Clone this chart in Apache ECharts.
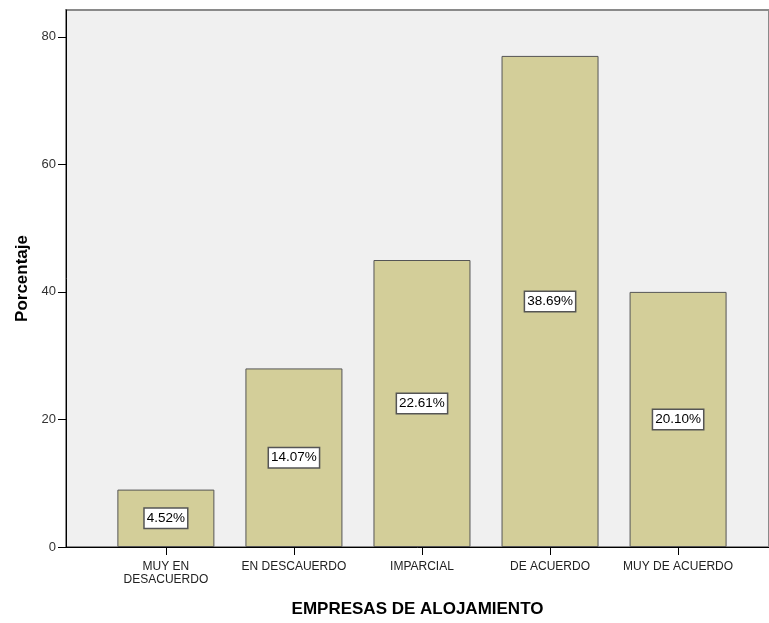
<!DOCTYPE html>
<html>
<head>
<meta charset="utf-8">
<script src="https://cdn.jsdelivr.net/npm/echarts@6/dist/echarts.min.js"></script>
<style>
  html, body { margin: 0; padding: 0; background: #fff; }
  #chart { width: 769px; height: 623px; }
</style>
</head>
<body>
<div id="chart"></div>
<script>
// categorias y datos
const categories = ['MUY EN\nDESACUERDO', 'EN DESCAUERDO', 'IMPARCIAL', 'DE ACUERDO', 'MUY DE ACUERDO']
const values = [9, 28, 45, 77, 40]
const percents = [4.52, 14.07, 22.61, 38.69, 20.10]
const yTicks = [0, 20, 40, 60, 80]
const xTicks = [0, 1, 2, 3, 4]

const font = 'Arial, "Liberation Sans", sans-serif'

const chart = echarts.init(document.getElementById('chart'))

const option = {
    animation: false,
    textStyle: { fontFamily: font },
    grid: {
        left: 66,
        top: 10,
        right: -2,
        bottom: 71,
        show: true,
        backgroundColor: '#f0f0f0',
        borderColor: '#8a8a8a',
        borderWidth: 2
    },
    xAxis: {
        type: 'value',
        min: -0.78,
        max: 4.71,
        name: 'EMPRESAS DE ALOJAMIENTO',
        nameLocation: 'middle',
        nameGap: 54,
        nameTextStyle: { fontSize: 17, fontWeight: 'bold', color: '#000', fontFamily: font },
        splitLine: { show: false },
        axisLine: { show: true, onZero: false, lineStyle: { color: '#000', width: 1 } },
        axisTick: { show: true, customValues: xTicks, length: 8, lineStyle: { color: '#000' } },
        axisLabel: {
            customValues: xTicks,
            formatter: v => categories[Math.round(v)],
            fontSize: 12,
            lineHeight: 13,
            color: '#222',
            margin: 13
        }
    },
    yAxis: {
        type: 'value',
        min: 0,
        max: 84.2,
        name: 'Porcentaje',
        nameLocation: 'middle',
        nameGap: 34,
        nameTextStyle: { fontSize: 17, fontWeight: 'bold', color: '#000', fontFamily: font },
        splitLine: { show: false },
        axisLine: { show: true, onZero: false, lineStyle: { color: '#000', width: 1 } },
        axisTick: { show: true, customValues: yTicks, length: 8, lineStyle: { color: '#000' } },
        axisLabel: { customValues: yTicks, fontSize: 13, color: '#333', margin: 10 }
    },
    series: [{
        type: 'bar',
        barWidth: 97,
        data: values.map((v, i) => [i, v]),
        itemStyle: { color: '#d3ce99', borderColor: '#555', borderWidth: 1 },
        label: {
            show: true,
            position: 'inside',
            formatter: p => percents[p.dataIndex].toFixed(2) + '%',
            fontSize: 13.5,
            color: '#000',
            backgroundColor: '#fff',
            borderColor: '#555',
            borderWidth: 1.5,
            padding: [3, 2, 2, 2]
        }
    }]
}

chart.setOption(option)
</script>
</body>
</html>
